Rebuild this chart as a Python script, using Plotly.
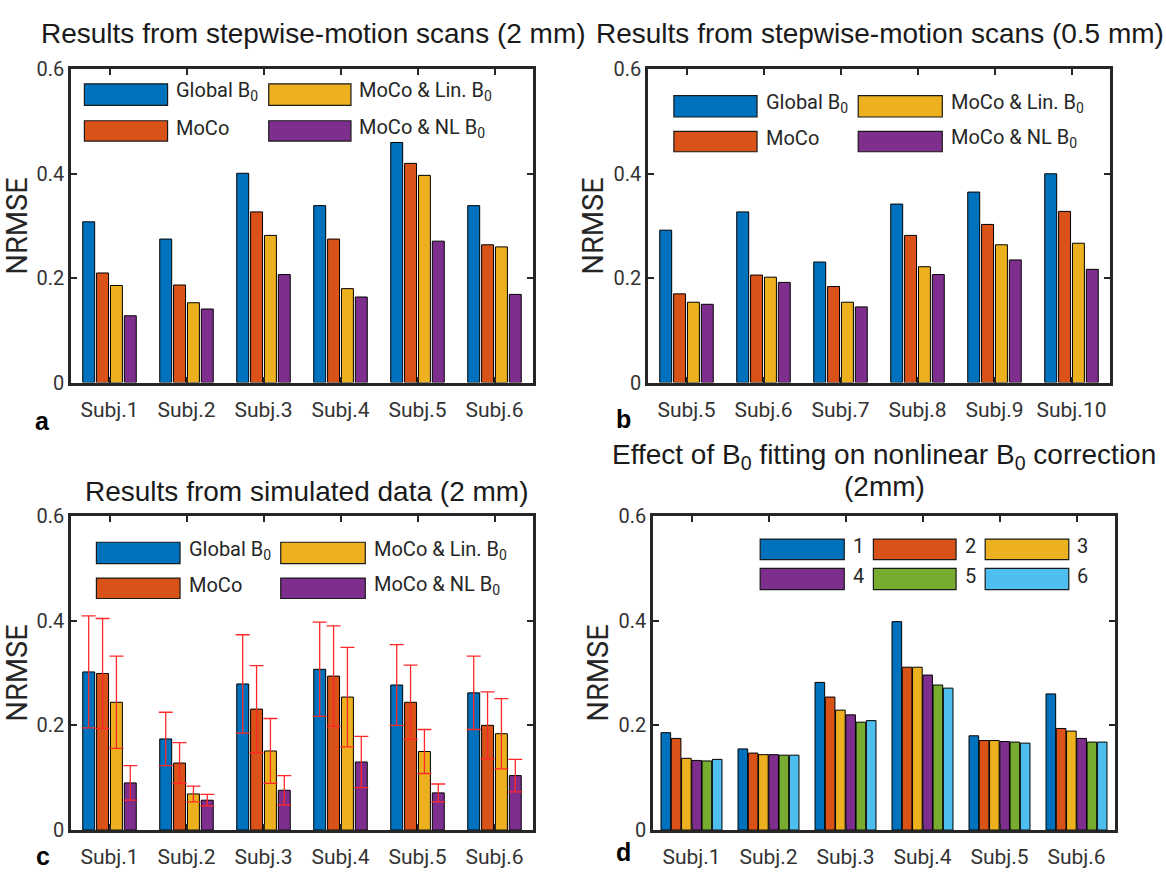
import plotly.graph_objects as go

# ---------------- data ----------------
cats_a = ["Subj.1", "Subj.2", "Subj.3", "Subj.4", "Subj.5", "Subj.6"]
cats_b = ["Subj.5", "Subj.6", "Subj.7", "Subj.8", "Subj.9", "Subj.10"]
cats_c = ["Subj.1", "Subj.2", "Subj.3", "Subj.4", "Subj.5", "Subj.6"]
cats_d = ["Subj.1", "Subj.2", "Subj.3", "Subj.4", "Subj.5", "Subj.6"]

series_names = ["Global B<sub>0</sub>", "MoCo", "MoCo & Lin. B<sub>0</sub>", "MoCo & NL B<sub>0</sub>"]
fit_names = ["1", "2", "3", "4", "5", "6"]

a_global = [0.308, 0.275, 0.401, 0.339, 0.460, 0.339]
a_moco = [0.210, 0.187, 0.327, 0.275, 0.420, 0.264]
a_lin = [0.186, 0.153, 0.282, 0.180, 0.397, 0.260]
a_nl = [0.128, 0.141, 0.207, 0.164, 0.271, 0.169]

b_global = [0.292, 0.327, 0.231, 0.342, 0.365, 0.400]
b_moco = [0.170, 0.206, 0.184, 0.282, 0.303, 0.328]
b_lin = [0.154, 0.202, 0.154, 0.222, 0.264, 0.267]
b_nl = [0.150, 0.192, 0.145, 0.207, 0.235, 0.217]

c_global = [0.302, 0.174, 0.279, 0.307, 0.277, 0.262]
c_global_err = [0.107, 0.051, 0.094, 0.090, 0.077, 0.070]
c_moco = [0.299, 0.128, 0.231, 0.294, 0.244, 0.200]
c_moco_err = [0.105, 0.039, 0.083, 0.096, 0.071, 0.064]
c_lin = [0.244, 0.069, 0.151, 0.254, 0.150, 0.184]
c_lin_err = [0.088, 0.015, 0.062, 0.095, 0.042, 0.067]
c_nl = [0.090, 0.057, 0.076, 0.130, 0.071, 0.104]
c_nl_err = [0.033, 0.011, 0.028, 0.049, 0.017, 0.031]

d_fit1 = [0.186, 0.155, 0.282, 0.398, 0.180, 0.260]
d_fit2 = [0.175, 0.147, 0.254, 0.311, 0.171, 0.194]
d_fit3 = [0.137, 0.144, 0.229, 0.311, 0.171, 0.189]
d_fit4 = [0.133, 0.144, 0.220, 0.296, 0.169, 0.175]
d_fit5 = [0.132, 0.143, 0.206, 0.277, 0.168, 0.168]
d_fit6 = [0.135, 0.143, 0.209, 0.271, 0.166, 0.168]

colors = ["#0072BD", "#D95319", "#EDB120", "#7E2F8E", "#77AC30", "#4DBEEE"]

# ---------------- figure ----------------
W, H = 1166, 880
fig = go.Figure()

def px_x(p):
    return p / W

def px_y(p):
    return 1 - p / H

domains = {
    1: dict(x=[px_x(71), px_x(533)], y=[px_y(381), px_y(59)]),
    2: dict(x=[px_x(648), px_x(1110)], y=[px_y(381), px_y(59)]),
    3: dict(x=[px_x(71), px_x(533)], y=[px_y(841), px_y(518)]),
    4: dict(x=[px_x(653), px_x(1115)], y=[px_y(841), px_y(518)]),
}

def add_group(k, cats, values_list, names, errs=None, slot=0.18, bw=0.155):
    n = len(values_list)
    start = -slot * n / 2
    for i, vals in enumerate(values_list):
        kw = {}
        if errs is not None:
            kw["error_y"] = dict(type="data", array=errs[i], visible=True,
                                 color="rgb(255,40,40)", thickness=1.3, width=7)
        fig.add_trace(go.Bar(
            x=cats, y=vals, name=names[i],
            marker=dict(color=colors[i], line=dict(color="black", width=1)),
            width=bw, offset=start + i * slot + (slot - bw) / 2,
            xaxis="x" if k == 1 else f"x{k}",
            yaxis="y" if k == 1 else f"y{k}",
            showlegend=False, **kw))

add_group(1, cats_a, [a_global, a_moco, a_lin, a_nl], series_names)
add_group(2, cats_b, [b_global, b_moco, b_lin, b_nl], series_names)
add_group(3, cats_c, [c_global, c_moco, c_lin, c_nl], series_names,
          errs=[c_global_err, c_moco_err, c_lin_err, c_nl_err])
add_group(4, cats_d, [d_fit1, d_fit2, d_fit3, d_fit4, d_fit5, d_fit6], fit_names,
          slot=0.1333, bw=0.125)

tick_font = dict(family="Roboto", size=21, color="#333333")
axis_common = dict(showline=True, mirror="ticks", linecolor="#262626", linewidth=2.5,
                   ticks="inside", ticklen=6, tickwidth=2, tickcolor="#262626",
                   showgrid=False, zeroline=False, tickfont=tick_font)

layout = dict(width=W, height=H, margin=dict(l=0, r=0, t=0, b=0),
              paper_bgcolor="white", plot_bgcolor="white", barmode="group",
              showlegend=False)
for k in range(1, 5):
    xa = "xaxis" if k == 1 else f"xaxis{k}"
    ya = "yaxis" if k == 1 else f"yaxis{k}"
    yref = "y" if k == 1 else f"y{k}"
    xref = "x" if k == 1 else f"x{k}"
    layout[xa] = dict(domain=domains[k]["x"], anchor=yref, type="category",
                      range=[-0.5, 5.5], ticklabelstandoff=6, **axis_common)
    layout[ya] = dict(domain=domains[k]["y"], anchor=xref, range=[0, 0.6],
                      tickvals=[0, 0.2, 0.4, 0.6], ticktext=["0", "0.2", "0.4", "0.6"],
                      title=dict(text="NRMSE", font=dict(family="Roboto", size=29, color="#262626"),
                                 standoff=2),
                      **{**axis_common, "tickfont": dict(family="Roboto", size=20, color="#333333")})
fig.update_layout(**layout)

# ---------------- legends (drawn as swatches + labels) ----------------
def add_legend(k, names, cols_x, rows_y, text_x, order):
    xd = ("x" if k == 1 else f"x{k}") + " domain"
    yd = ("y" if k == 1 else f"y{k}") + " domain"
    for idx, (c, r) in enumerate(order):
        fig.add_shape(type="rect", xref=xd, yref=yd,
                      x0=cols_x[c][0], x1=cols_x[c][1], y0=rows_y[r][0], y1=rows_y[r][1],
                      fillcolor=colors[idx], line=dict(color="#1a1a1a", width=1.2), layer="above")
        fig.add_annotation(xref=xd, yref=yd, x=text_x[c], y=(rows_y[r][0] + rows_y[r][1]) / 2 + 0.01,
                           text=names[idx], showarrow=False, xanchor="left", yanchor="middle",
                           font=dict(family="Roboto", size=20, color="#262626"))

four_order = [(0, 0), (0, 1), (1, 0), (1, 1)]
add_legend(1, series_names, [[0.029, 0.209], [0.428, 0.606]],
           [[0.885, 0.954], [0.771, 0.836]], [0.224, 0.62], four_order)
add_legend(2, series_names, [[0.056, 0.236], [0.455, 0.637]],
           [[0.848, 0.916], [0.737, 0.802]], [0.25, 0.652], four_order)
add_legend(3, series_names, [[0.055, 0.236], [0.454, 0.637]],
           [[0.848, 0.916], [0.737, 0.802]], [0.252, 0.651], four_order)
six_order = [(0, 0), (1, 0), (2, 0), (0, 1), (1, 1), (2, 1)]
add_legend(4, fit_names, [[0.232, 0.414], [0.477, 0.656], [0.719, 0.90]],
           [[0.861, 0.926], [0.765, 0.833]], [0.428, 0.671, 0.913], six_order)

# ---------------- titles and panel letters ----------------
title_font = dict(family="Liberation Sans", size=28, color="#1a1a1a")
titles = [
    ("Results from stepwise-motion scans (2 mm)", 314, 22),
    ("Results from stepwise-motion scans (0.5 mm)", 880, 22),
    ("Results from simulated data (2 mm)", 306, 493),
    ("Effect of B<sub>0</sub> fitting on nonlinear B<sub>0</sub> correction", 884, 457),
    ("(2mm)", 884, 488),
]
for text, x, y in titles:
    fig.add_annotation(xref="paper", yref="paper", x=px_x(x), y=px_y(y), text=text,
                       showarrow=False, xanchor="center", yanchor="middle", font=title_font)

letters = [("a", 42, 420), ("b", 623, 418), ("c", 43, 868), ("d", 623, 864)]
for t, x, y in letters:
    fig.add_annotation(xref="paper", yref="paper", x=px_x(x), y=px_y(y), text=f"<b>{t}</b>",
                       showarrow=False, xanchor="center", yanchor="middle",
                       font=dict(family="Liberation Sans", size=25, color="black"))

fig.write_html("out.html", config={"displayModeBar": False},
               post_script="document.body.style.margin='0';")
